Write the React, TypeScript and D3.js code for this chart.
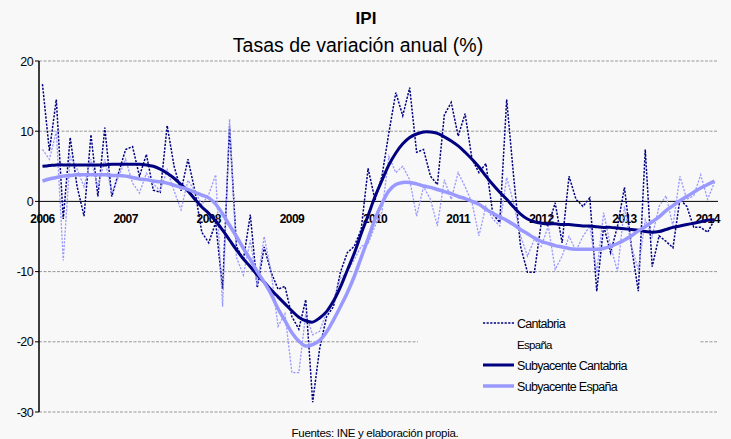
import React from "react";
import * as d3 from "d3";

const years = ["2006", "2007", "2008", "2009", "2010", "2011", "2012", "2013", "2014"];
const yTicks = [20, 10, 0, -10, -20, -30];

const cantabria = [
  16.7, 7.2, 14.5, -2.5, 9.1, 2.1, -2.1, 9.5, 0.7, 10.5, 0.7, 4.1,
  7.4, 7.8, 3.6, 6.7, 1.6, 1.3, 10.8, 5.0, 1.5, 6.0, 1.5, -4.4,
  -5.9, -3.0, -12.5, 10.7, -6.4, -8.3, -1.9, -12.3, -6.5, -10.1, -12.5, -12.1,
  -16.4, -18.2, -14.0, -28.6, -21.0, -16.4, -15.0, -10.1, -7.3, -6.4, -4.0, 4.7,
  0.2, 3.6, 9.8, 15.5, 12.2, 16.2, 7.0, 7.4, 3.6, 2.4, 12.3, 14.1,
  9.3, 12.5, 6.0, 4.1, 5.4, -1.8, -3.0, 14.5, 3.6, -6.4, -10.1, -10.1,
  -3.0, -3.5, -0.2, -5.9, 3.6, 0.3, -0.7, 0.5, -12.8, -3.5, -7.3, -3.5,
  2.0, -6.4, -12.8, 7.4, -9.3, -4.9, -5.7, -6.6, 0.3, -0.7, -3.7, -3.7,
  -4.4, -2.6,
];

const espana = [
  7.4, 6.0, 10.0, -8.4, 6.4, 4.6, 2.1, 6.0, 2.0, 6.0, 1.2, 3.6,
  6.0, 2.6, 1.2, 4.0, 2.5, 1.5, 4.5, 1.5, -1.2, 3.0, 1.5, -0.5,
  1.0, 3.8, -15.0, 11.7, -8.0, -10.5, -5.5, -12.0, -5.0, -10.0, -17.8, -16.0,
  -24.4, -24.4, -16.0, -19.0, -18.5, -15.8, -14.0, -11.0, -10.0, -8.3, -6.4, -6.0,
  -3.5, -1.5, 6.4, 4.1, 5.0, 3.1, -2.1, 2.1, 0.3, -3.5, 3.1, 0.3,
  4.1, 2.1, -0.2, -4.9, -0.7, -2.5, -3.5, 3.4, -0.2, -4.9, -7.8, -5.4,
  -6.4, -3.5, -9.7, -7.8, -5.0, -7.0, -5.0, -3.5, -10.1, -1.6, -6.4, -10.0,
  -0.7, -6.4, -9.7, -2.6, -5.0, -0.7, 0.8, -3.5, 3.6, 0.3, 0.8, 3.8,
  0.3, 2.7,
];

const subCantabria = [
  5.0, 5.1, 5.2, 5.2, 5.2, 5.2, 5.2, 5.2, 5.2, 5.2, 5.3, 5.3,
  5.3, 5.3, 5.3, 5.2, 5.0, 4.6, 4.0, 3.3, 2.4, 1.5, 0.3, -0.8,
  -1.7, -2.8, -4.1, -5.5, -6.9, -8.2, -9.3, -10.5, -11.5, -12.6, -13.6, -14.6,
  -15.6, -16.5, -17.0, -17.2, -16.6, -15.7, -14.2, -12.2, -9.8, -7.4, -4.6, -2.0,
  0.7, 3.0, 5.2, 6.9, 8.2, 9.1, 9.6, 9.9, 9.9, 9.7, 9.2, 8.6,
  7.9, 7.0, 6.0, 4.9, 3.6, 2.4, 1.3, 0.3, -0.8, -1.8, -2.5, -2.9,
  -3.1, -3.2, -3.2, -3.3, -3.3, -3.4, -3.5, -3.5, -3.6, -3.7, -3.7, -3.8,
  -3.9, -4.0, -4.1, -4.3, -4.4, -4.3, -4.0, -3.7, -3.5, -3.3, -3.1, -2.9,
  -2.7, -2.6,
];

const subEspana = [
  2.9, 3.2, 3.4, 3.6, 3.7, 3.8, 3.8, 3.8, 3.8, 3.8, 3.7, 3.7,
  3.6, 3.4, 3.2, 3.1, 2.9, 2.8, 2.6, 2.3, 2.0, 1.7, 1.3, 0.9,
  0.5, -0.4, -1.8, -3.4, -5.0, -6.7, -8.3, -10.0, -11.5, -13.2, -15.3, -17.0,
  -18.7, -19.9, -20.6, -20.4, -19.8, -18.6, -16.9, -15.0, -13.0, -10.7, -8.0, -5.3,
  -2.5, -0.3, 1.5, 2.4, 2.7, 2.7, 2.5, 2.2, 2.0, 1.7, 1.4, 1.1,
  0.7, 0.4, 0.0, -0.4, -1.1, -1.7, -2.2, -2.7, -3.3, -4.0, -4.6, -5.2,
  -5.7, -6.0, -6.3, -6.5, -6.7, -6.8, -6.8, -6.8, -6.8, -6.7, -6.4, -6.0,
  -5.5, -4.9, -4.2, -3.6, -2.9, -2.2, -1.3, -0.6, 0.1, 0.7, 1.3, 1.9,
  2.4, 2.9,
];

const legendLabels = ["Cantabria", "España", "Subyacente Cantabria", "Subyacente España"];

const W = 731;
const H = 439;
const FONT = "'Liberation Sans', Arial, sans-serif";
const NAVY = "#000080";
const LIGHT = "#9999ff";
const BG = "#f8f8f8";

export default function App() {
  const months = d3.range(cantabria.length);
  const x = d3.scaleBand<number>().domain(months).range([39, 718]).padding(0);
  const px = (i: number) => (x(i) as number) + x.bandwidth() / 2;
  const y = d3.scaleLinear().domain([-30, 20]).range([412, 61]);

  const line = d3
    .line<number>()
    .x((_, i) => px(i))
    .y((d) => y(d));
  const smooth = d3
    .line<number>()
    .x((_, i) => px(i))
    .y((d) => y(d))
    .curve(d3.curveCatmullRom);

  const legendY = [323, 344, 365, 386];

  return (
    <svg
      width={W}
      height={H}
      style={{ position: "absolute", left: 0, top: 0, background: BG }}
      fontFamily={FONT}
    >
      <rect x={0} y={0} width={W} height={H} fill={BG} />
      <text x={366} y={24} textAnchor="middle" fontSize={17} fontWeight="bold" fill="#000">
        IPI
      </text>
      <text x={358} y={52} textAnchor="middle" fontSize={19.5} fill="#000">
        Tasas de variación anual (%)
      </text>

      {yTicks
        .filter((t) => t !== 0)
        .map((t) => (
          <line
            key={"g" + t}
            x1={39}
            x2={718}
            y1={y(t)}
            y2={y(t)}
            stroke="#999"
            strokeWidth={1}
            strokeDasharray="3,1.5"
          />
        ))}
      <line x1={39} x2={718} y1={y(0)} y2={y(0)} stroke="#000" strokeWidth={1} />
      <line x1={39} x2={39} y1={y(20)} y2={y(-30)} stroke="#000" strokeWidth={1.5} />
      {yTicks.map((t) => (
        <g key={"t" + t}>
          <line x1={35} x2={39} y1={y(t)} y2={y(t)} stroke="#000" strokeWidth={1} />
          <text x={33} y={y(t) + 4.5} textAnchor="end" fontSize={12.5} letterSpacing={-0.6} fill="#000">
            {t}
          </text>
        </g>
      ))}

      {years.map((yr, k) => (
        <text
          key={yr}
          x={px(k * 12)}
          y={222.5}
          textAnchor="middle"
          fontSize={12}
          fontWeight="bold"
          letterSpacing={-0.6}
          fill="#000"
        >
          {yr}
        </text>
      ))}

      <path d={line(cantabria) || ""} fill="none" stroke={NAVY} strokeWidth={1.5} strokeDasharray="2.2,1.4" />
      <path d={line(espana) || ""} fill="none" stroke={LIGHT} strokeWidth={1.3} strokeDasharray="2.2,1.4" />
      <path d={smooth(subCantabria) || ""} fill="none" stroke={NAVY} strokeWidth={3} strokeLinejoin="round" />
      <path d={smooth(subEspana) || ""} fill="none" stroke={LIGHT} strokeWidth={3.5} strokeLinejoin="round" />

      <rect x={418} y={305} width={282} height={96} fill={BG} />
      {legendLabels.map((lab, k) => {
        const ly = legendY[k];
        let sample: React.ReactNode = null;
        if (k === 0)
          sample = <line x1={483} x2={514} y1={ly} y2={ly} stroke={NAVY} strokeWidth={1.5} strokeDasharray="2.2,1.4" />;
        if (k === 2) sample = <line x1={483} x2={514} y1={ly} y2={ly} stroke={NAVY} strokeWidth={3} />;
        if (k === 3) sample = <line x1={483} x2={514} y1={ly} y2={ly} stroke={LIGHT} strokeWidth={3.5} />;
        return (
          <g key={lab}>
            {sample}
            <text
              x={517}
              y={ly + 4.5}
              fontSize={k === 1 ? 11.5 : 12.5}
              letterSpacing={-0.7}
              fill="#000"
            >
              {lab}
            </text>
          </g>
        );
      })}

      <text x={375} y={437} textAnchor="middle" fontSize={11.5} letterSpacing={-0.3} fill="#000">
        Fuentes: INE y elaboración propia.
      </text>
    </svg>
  );
}
